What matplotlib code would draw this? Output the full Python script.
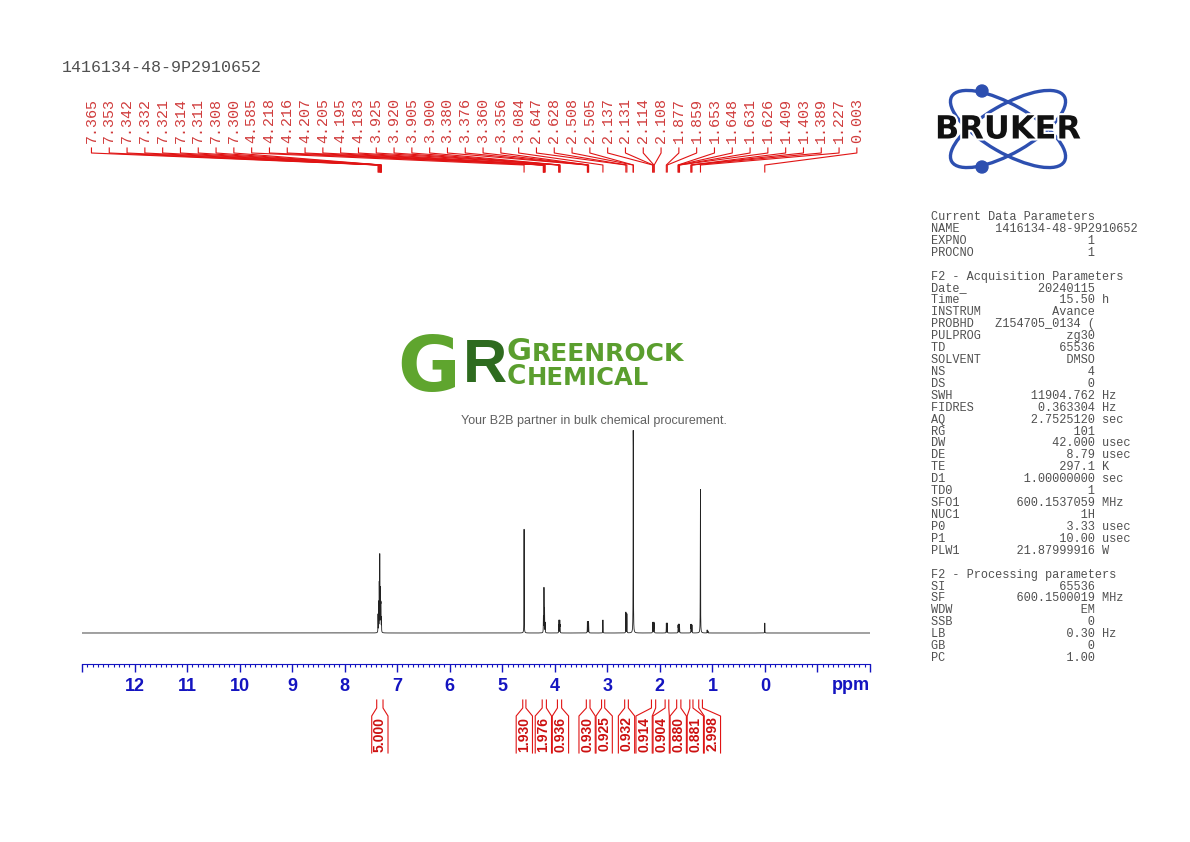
import numpy as np
import matplotlib
matplotlib.use('Agg')
import matplotlib.pyplot as plt
from matplotlib.patches import Ellipse, Circle
from matplotlib.ticker import MultipleLocator, FixedLocator
import matplotlib.patheffects as pe

# --- data ---
sample_name = "1416134-48-9P2910652"

peak_ppm = [7.365, 7.353, 7.342, 7.332, 7.321, 7.314, 7.311, 7.308, 7.300,
            4.585, 4.218, 4.216, 4.207, 4.205, 4.195, 4.183,
            3.925, 3.920, 3.905, 3.900, 3.380, 3.376, 3.360, 3.356, 3.084,
            2.647, 2.628, 2.508, 2.505, 2.137, 2.131, 2.114, 2.108,
            1.877, 1.859, 1.653, 1.648, 1.631, 1.626, 1.409, 1.403, 1.389,
            1.227, 0.003]
peak_height = [18, 30, 48, 76, 42, 22, 18, 20, 14,
               105, 10, 10, 30, 28, 24, 10,
               7, 12, 12, 7, 10, 8, 10, 8, 13,
               21, 19, 165, 140, 10, 9, 10, 9,
               10, 10, 7, 8, 8, 7, 8, 8, 8,
               137, 10]
# lines without a label
extra_ppm = [1.231, 1.100, 1.085]
extra_height = [45, 3, 2]

int_values = ["5.000", "1.930", "1.976", "0.936", "0.930", "0.925",
              "0.932", "0.914", "0.904", "0.880", "0.881", "2.998"]
int_from = [7.39, 4.61, 4.24, 3.95, 3.40, 3.11, 2.67, 2.16, 1.90, 1.68, 1.43, 1.26]
int_to = [7.27, 4.55, 4.16, 3.87, 3.33, 3.05, 2.60, 2.08, 1.83, 1.60, 1.37, 1.19]

acq_keys = ["Date_", "Time", "INSTRUM", "PROBHD", "PULPROG", "TD", "SOLVENT",
            "NS", "DS", "SWH", "FIDRES", "AQ", "RG", "DW", "DE", "TE", "D1",
            "TD0", "SFO1", "NUC1", "P0", "P1", "PLW1"]
acq_vals = ["20240115", "15.50", "Avance", "Z154705_0134 (", "zg30", "65536",
            "DMSO", "4", "0", "11904.762", "0.363304", "2.7525120", "101",
            "42.000", "8.79", "297.1", "1.00000000", "1", "600.1537059", "1H",
            "3.33", "10.00", "21.87999916"]
acq_units = ["", "h", "", "", "", "", "", "", "", "Hz", "Hz", "sec", "",
             "usec", "usec", "K", "sec", "", "MHz", "", "usec", "usec", "W"]
proc_keys = ["SI", "SF", "WDW", "SSB", "LB", "GB", "PC"]
proc_vals = ["65536", "600.1500019", "EM", "0", "0.30", "0", "1.00"]
proc_units = ["", "MHz", "", "", "Hz", "", ""]

W, H = 1190, 842
fig = plt.figure(figsize=(W / 100, H / 100), dpi=100)


def px_axes(left, top, right, bottom):
    return fig.add_axes([left / W, 1 - bottom / H, (right - left) / W, (bottom - top) / H])


blue = '#1414c0'
red_line = '#e01414'
red_text = '#d03c3c'
grey = '#505050'
green = '#5a9e2e'

# overlay for header, logos and parameter panel
ov = fig.add_axes([0, 0, 1, 1])
ov.set_xlim(0, W)
ov.set_ylim(H, 0)
ov.axis('off')

ov.text(62, 68, sample_name, family='Liberation Mono', fontsize=12, color=grey, va='center')

# parameter panel
lines = ["Current Data Parameters",
         f"{'NAME':<9}{sample_name:>14}",
         f"{'EXPNO':<9}{'1':>14}",
         f"{'PROCNO':<9}{'1':>14}",
         "",
         "F2 - Acquisition Parameters"]
lines += [f"{k:<9}{v:>14} {u}".rstrip() for k, v, u in zip(acq_keys, acq_vals, acq_units)]
lines += ["", "F2 - Processing parameters"]
lines += [f"{k:<9}{v:>14} {u}".rstrip() for k, v, u in zip(proc_keys, proc_vals, proc_units)]
for i, s in enumerate(lines):
    if s:
        ov.text(931, 217 + 11.92 * i, s, family='Liberation Mono', fontsize=8.58,
                color=grey, va='center')

# Bruker logo
for ang in (30, -30):
    ov.add_patch(Ellipse((1008, 129), 130, 48, angle=ang, fill=False, ec='#2d4fb0', lw=2.4))
ov.add_patch(Circle((982, 91), 6, color='#2d4fb0'))
ov.add_patch(Circle((982, 167), 6, color='#2d4fb0'))
ov.text(1008, 130, "BRUKER", ha='center', va='center', fontsize=23, fontweight='bold',
        family='DejaVu Sans', color='#111111',
        path_effects=[pe.withStroke(linewidth=3, foreground='white')])

# Greenrock logo
ov.text(429, 370, "G", ha='center', va='center', fontsize=55, fontweight='bold',
        family='DejaVu Sans', color='#5fa52e')
ov.text(485, 367, "R", ha='center', va='center', fontsize=44, fontweight='bold',
        family='Liberation Sans', color='#2e6b1f')
g1 = ov.text(507, 366, "G", ha='left', va='bottom', fontsize=22, fontweight='bold',
             family='DejaVu Sans', color=green)
ov.annotate("REENROCK", xy=(1, 0), xycoords=g1, ha='left', va='bottom', fontsize=18,
            fontweight='bold', family='DejaVu Sans', color=green)
c1 = ov.text(507, 390, "C", ha='left', va='bottom', fontsize=19, fontweight='bold',
             family='DejaVu Sans', color=green)
ov.annotate("HEMICAL", xy=(1, 0), xycoords=c1, ha='left', va='bottom', fontsize=17.5,
            fontweight='bold', family='DejaVu Sans', color=green)
ov.text(594, 421, "Your B2B partner in bulk chemical procurement.", ha='center', va='center',
        fontsize=9, family='Liberation Sans', color='#606060')

# spectrum
ax = px_axes(82, 400, 870, 664)
ax.set_facecolor('none')
ax.set_xlim(13, -2)
ax.set_ylim(-31, 233)
x = np.arange(13, -2, -0.0004)
y = np.zeros_like(x)
for p, h in zip(peak_ppm + extra_ppm, peak_height + extra_height):
    y += h / (1 + ((x - p) / 0.0018) ** 2)
ax.plot(x, y, color='#222222', lw=0.6)

for s in ('top', 'left', 'right'):
    ax.spines[s].set_visible(False)
ax.spines['bottom'].set_color(blue)
ax.set_yticks([])
major = list(range(-2, 14))
ax.xaxis.set_major_locator(FixedLocator(major))
ax.set_xticklabels([str(t) if 0 <= t <= 12 else '' for t in major])
ax.xaxis.set_minor_locator(MultipleLocator(0.1))
ax.tick_params(axis='x', which='major', length=6, width=1, colors=blue, pad=4, labelsize=13)
ax.tick_params(axis='x', which='minor', length=2.5, width=0.8, color=blue)
for lab in ax.get_xticklabels():
    lab.set_fontweight('bold')
    lab.set_family('Liberation Sans')
ax.text(1.0, -22 / 264, "ppm", transform=ax.transAxes, ha='right', va='center',
        fontsize=13, fontweight='bold', family='Liberation Sans', color=blue)

# peak labels with leaders
axt = px_axes(82, 88, 870, 176)
axt.set_xlim(13, -2)
axt.set_ylim(176, 88)
axt.axis('off')
label_x = np.linspace(12.82, -1.75, len(peak_ppm))
for lx, p in zip(label_x, peak_ppm):
    axt.plot([lx, lx, p, p], [148, 153, 165, 172], color=red_line, lw=0.8)
    axt.text(lx, 143, f"{p:.3f}", rotation=90, ha='center', va='bottom',
             family='Liberation Mono', fontsize=10.8, color=red_text)


# integrals below the scale
def spread(centers, gap):
    groups = [[c] for c in centers]
    while True:
        pos = []
        for g in groups:
            m = np.mean(g)
            n = len(g)
            pos.append([m + gap * ((n - 1) / 2 - k) for k in range(n)])
        merged = False
        for i in range(len(groups) - 1):
            if pos[i][-1] - pos[i + 1][0] < gap:
                groups[i] = groups[i] + groups[i + 1]
                del groups[i + 1]
                merged = True
                break
        if not merged:
            return [v for p in pos for v in p]


axi = px_axes(82, 692, 870, 758)
axi.set_xlim(13, -2)
axi.set_ylim(758, 692)
axi.axis('off')
centers = [(a + b) / 2 for a, b in zip(int_from, int_to)]
int_x = spread(centers, 0.325)
hw = 0.155
for lx, a, b, v in zip(int_x, int_from, int_to, int_values):
    axi.plot([a, a, lx + hw, lx + hw], [700, 708, 716, 753], color=red_line, lw=0.8)
    axi.plot([b, b, lx - hw, lx - hw], [700, 708, 716, 753], color=red_line, lw=0.8)
    axi.text(lx, 734, v, rotation=90, ha='center', va='center', fontsize=10,
             fontweight='bold', family='Liberation Sans', color='#cc1010')

fig.savefig('out.png', dpi=100)
